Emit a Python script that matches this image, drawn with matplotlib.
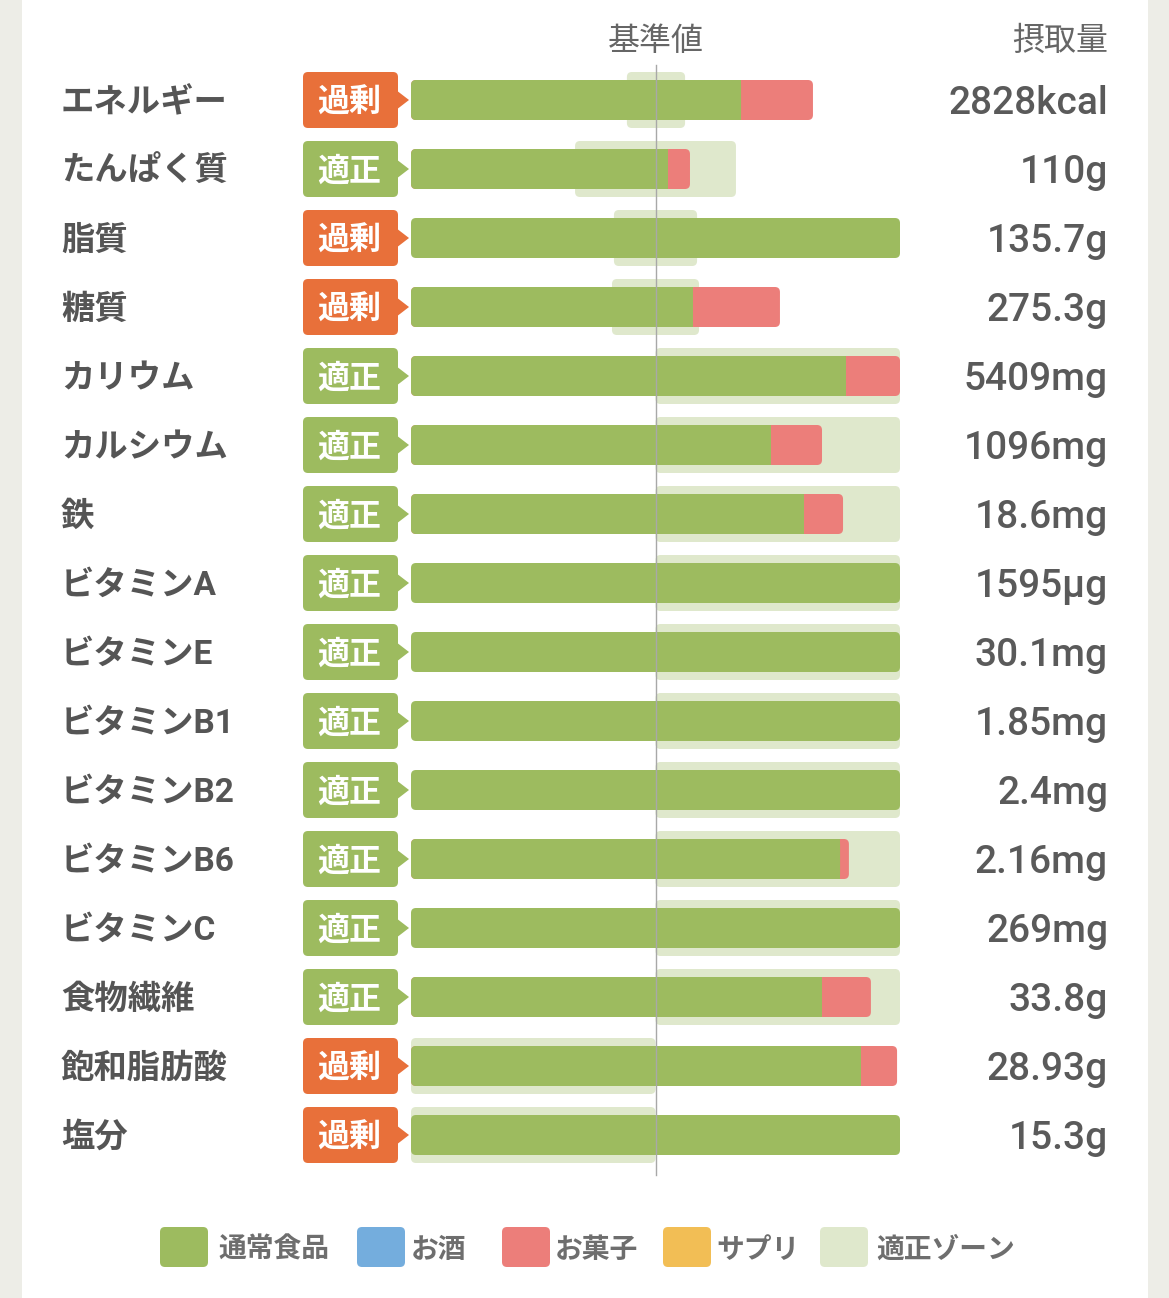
import matplotlib
matplotlib.use("Agg")
import matplotlib.pyplot as plt
from matplotlib.patches import FancyBboxPatch, Rectangle, Polygon

plt.rcParams['font.family'] = ['Noto Sans CJK JP', 'DejaVu Sans']
LATIN_FIRST = ['Roboto', 'Noto Sans CJK JP', 'DejaVu Sans']

# ---- data (percent of reference value; 100 = 基準値, bars capped at 200) ----
nutrients = ["エネルギー", "たんぱく質", "脂質", "糖質", "カリウム", "カルシウム", "鉄",
             "ビタミンA", "ビタミンE", "ビタミンB1", "ビタミンB2", "ビタミンB6",
             "ビタミンC", "食物繊維", "飽和脂肪酸", "塩分"]
status = ["過剰", "適正", "過剰", "過剰", "適正", "適正", "適正", "適正", "適正",
          "適正", "適正", "適正", "適正", "適正", "過剰", "過剰"]
intake = ["2828kcal", "110g", "135.7g", "275.3g", "5409mg", "1096mg", "18.6mg",
          "1595µg", "30.1mg", "1.85mg", "2.4mg", "2.16mg", "269mg", "33.8g",
          "28.93g", "15.3g"]
food_pct = [135.0, 105.1, 200, 115.3, 177.9, 147.2, 160.7, 200, 200, 200, 200,
            175.5, 200, 168.1, 184.0, 200]
snack_pct = [29.4, 9.0, 0, 35.6, 22.1, 20.9, 16.0, 0, 0, 0, 0,
             3.6, 0, 20.0, 14.8, 0]
zone_low = [88.3, 67.1, 83.0, 82.2, 100, 100, 100, 100, 100, 100, 100,
            100, 100, 100, 0, 0]
zone_high = [112.1, 132.9, 117.0, 117.8, 200, 200, 200, 200, 200, 200, 200,
             200, 200, 200, 100, 100]

legend_labels = ["通常食品", "お酒", "お菓子", "サプリ", "適正ゾーン"]
legend_colors = ["#9DBB5F", "#74ADDD", "#EC7E7A", "#F2BE55", "#DFE8CC"]

GREEN = "#9DBB5F"
PINK = "#EC7E7A"
ZONE = "#DFE8CC"
ORANGE = "#E8703A"
TEXT = "#555555"

W, H = 1169, 1298
fig = plt.figure(figsize=(W / 100, H / 100), dpi=100)
fig.patch.set_facecolor("#EDEDE7")
fig.add_artist(Rectangle((22 / W, 0), (1148 - 22) / W, 1, transform=fig.transFigure,
                         facecolor="white", edgecolor="none", zorder=0))

# axes covers the whole figure; x = percent (0 at px 411, 200 at px 900), y = row index
ax = fig.add_axes([0, 0, 1, 1])
ax.set_facecolor("none")
PX_PER_PCT = (900 - 411) / 200
ROW_PX = 69
ax.set_xlim(-411 / PX_PER_PCT, (W - 411) / PX_PER_PCT)
ax.set_ylim((H - 100) / ROW_PX, -100 / ROW_PX)
ax.axis("off")

asp = PX_PER_PCT / ROW_PX
rad = 5 / PX_PER_PCT
dy = 3 / ROW_PX  # CJK text sits a little high with va=center


def rbox(x, y, w, h, color, z):
    ax.add_patch(FancyBboxPatch((x, y), w, h, boxstyle=f"round,pad=0,rounding_size={rad}",
                                mutation_aspect=asp, facecolor=color, edgecolor="none",
                                zorder=z))


def px_x(p):
    return (p - 411) / PX_PER_PCT


bar_h = 40 / ROW_PX
zone_h = 56 / ROW_PX
for i, name in enumerate(nutrients):
    # appropriate zone
    rbox(zone_low[i], i - zone_h / 2, zone_high[i] - zone_low[i], zone_h, ZONE, 1)
    total = food_pct[i] + snack_pct[i]
    if snack_pct[i] > 0:
        rbox(0, i - bar_h / 2, total, bar_h, PINK, 2)
    rbox(0, i - bar_h / 2, food_pct[i], bar_h, GREEN, 3)
    if snack_pct[i] > 0:
        ax.add_patch(Rectangle((food_pct[i] - 3, i - bar_h / 2), 3, bar_h,
                               facecolor=GREEN, edgecolor="none", zorder=3))

    # badge
    bc = ORANGE if status[i] == "過剰" else GREEN
    rbox(px_x(303), i - zone_h / 2, px_x(398) - px_x(303), zone_h, bc, 3)
    ax.add_patch(Polygon([(px_x(396), i - 10 / ROW_PX), (px_x(409), i),
                          (px_x(396), i + 10 / ROW_PX)], closed=True,
                         facecolor=bc, edgecolor="none", zorder=3))
    ax.text(px_x(349), i + dy, status[i], ha="center", va="center", fontsize=23,
            fontweight="bold", color="white", zorder=4)

    ax.text(px_x(61), i + dy, name, ha="left", va="center", fontsize=24,
            fontweight="bold", color=TEXT, family=LATIN_FIRST)
    ax.text(px_x(1108), i + 3.5 / ROW_PX, intake[i], ha="right", va="center",
            fontsize=28, fontweight="medium", color="#5A5A5A", family=LATIN_FIRST)

# reference line
ax.plot([100, 100], [-35 / ROW_PX, (1175 - 100) / ROW_PX], color="#A8A8A8",
        lw=1.0, zorder=5)

ax.text(100, (38 - 100) / ROW_PX + dy, "基準値", ha="center", va="center",
        fontsize=23, color="#666666")
ax.text(px_x(1108), (38 - 100) / ROW_PX + dy, "摂取量", ha="right", va="center",
        fontsize=23, color="#666666")

# legend
sq_left = [160, 357, 502, 663, 820]
txt_left = [218, 411, 555, 716, 876]
ly = (1247 - 100) / ROW_PX
for lbl, col, sx, tx in zip(legend_labels, legend_colors, sq_left, txt_left):
    rbox(px_x(sx), ly - 20 / ROW_PX, 48 / PX_PER_PCT, 40 / ROW_PX, col, 2)
    ax.text(px_x(tx), ly + dy, lbl, ha="left", va="center", fontsize=20,
            fontweight="bold", color="#6E6E6E")

fig.savefig("out.png", dpi=100)
